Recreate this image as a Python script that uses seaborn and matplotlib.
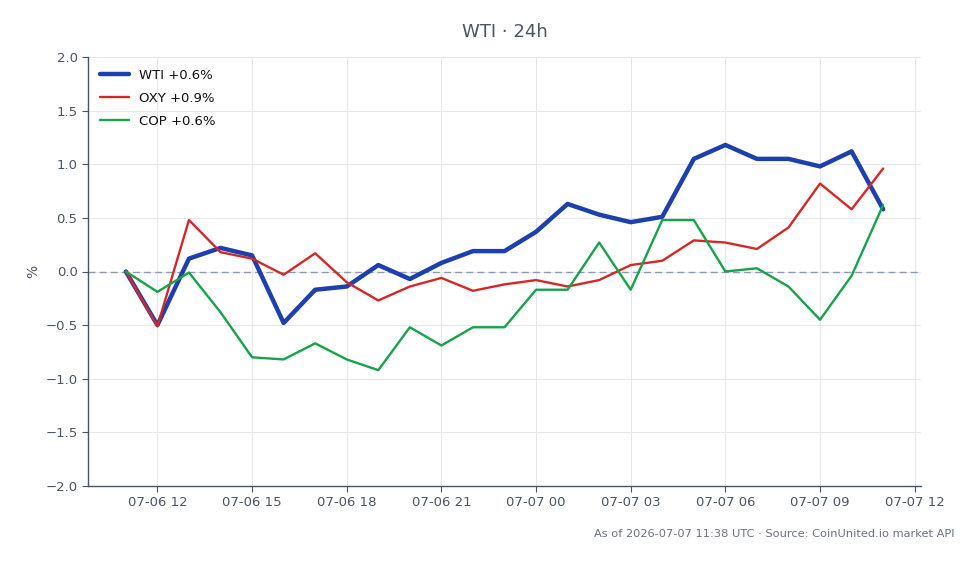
import pandas as pd
import numpy as np
import matplotlib
matplotlib.use("Agg")
import matplotlib.pyplot as plt
import matplotlib.dates as mdates
import seaborn as sns

# hourly points, 07-06 11:00 -> 07-07 11:00
times = pd.date_range("2026-07-06 11:00", "2026-07-07 11:00", freq="h")

wti = [0.00, -0.50, 0.12, 0.22, 0.15, -0.48, -0.17, -0.14, 0.06, -0.07, 0.08, 0.19, 0.19,
       0.37, 0.63, 0.53, 0.46, 0.51, 1.05, 1.18, 1.05, 1.05, 0.98, 1.12, 0.58]
oxy = [0.00, -0.51, 0.48, 0.18, 0.12, -0.03, 0.17, -0.10, -0.27, -0.14, -0.06, -0.18, -0.12,
       -0.08, -0.14, -0.08, 0.06, 0.10, 0.29, 0.27, 0.21, 0.41, 0.82, 0.58, 0.96]
cop = [0.00, -0.19, -0.01, -0.38, -0.80, -0.82, -0.67, -0.82, -0.92, -0.52, -0.69, -0.52, -0.52,
       -0.17, -0.17, 0.27, -0.17, 0.48, 0.48, 0.00, 0.03, -0.14, -0.45, -0.04, 0.62]

labels = ["WTI +0.6%", "OXY +0.9%", "COP +0.6%"]
colors = ["#1e40af", "#d62728", "#16a34a"]
widths = [3.2, 1.7, 1.7]

sns.set_style("white")
plt.rcParams["font.family"] = ["DejaVu Sans"]

fig = plt.figure(figsize=(9.79, 5.64), dpi=100)
ax = fig.add_axes([88 / 979, 1 - 486 / 564, (921 - 88) / 979, (486 - 57) / 564])

for vals, lab, col, lw in zip([wti, oxy, cop], labels, colors, widths):
    df = pd.DataFrame({"time": times, "pct": vals})
    sns.lineplot(data=df, x="time", y="pct", ax=ax, color=col, linewidth=lw, label=lab, zorder=3)

ax.grid(True, color="#e5e7eb", linewidth=0.7, zorder=0)
ax.set_axisbelow(True)
ax.axhline(0, color="#8b9ab0", linestyle="--", linewidth=1.0, dashes=(5, 3), zorder=2)
ax.set_ylim(-2.0, 2.0)
ax.set_yticks(np.arange(-2.0, 2.01, 0.5))
ax.xaxis.set_major_locator(mdates.HourLocator(byhour=[0, 3, 6, 9, 12, 15, 18, 21]))
ax.xaxis.set_major_formatter(mdates.DateFormatter("%m-%d %H"))

ax.set_xlabel("")
ax.set_ylabel("%", color="#4b5563", fontsize=10)
ax.tick_params(colors="#4b5563", labelsize=9.5, length=4, width=0.8, left=True, bottom=True)
for s in ["top", "right"]:
    ax.spines[s].set_visible(False)
for s in ["left", "bottom"]:
    ax.spines[s].set_color("#475569")
    ax.spines[s].set_linewidth(1.0)

leg = ax.legend(loc="upper left", frameon=False, fontsize=9.5, handlelength=2.2, labelspacing=0.75)
for t in leg.get_texts():
    t.set_color("#111111")

fig.text(505 / 979, 1 - 32 / 564, "WTI · 24h", ha="center", va="center", fontsize=13, color="#4b5563")
fig.text(955 / 979, 1 - 534 / 564, "As of 2026-07-07 11:38 UTC · Source: CoinUnited.io market API",
         ha="right", va="center", fontsize=8.2, color="#6b7280")

fig.savefig("out.png", dpi=100)
